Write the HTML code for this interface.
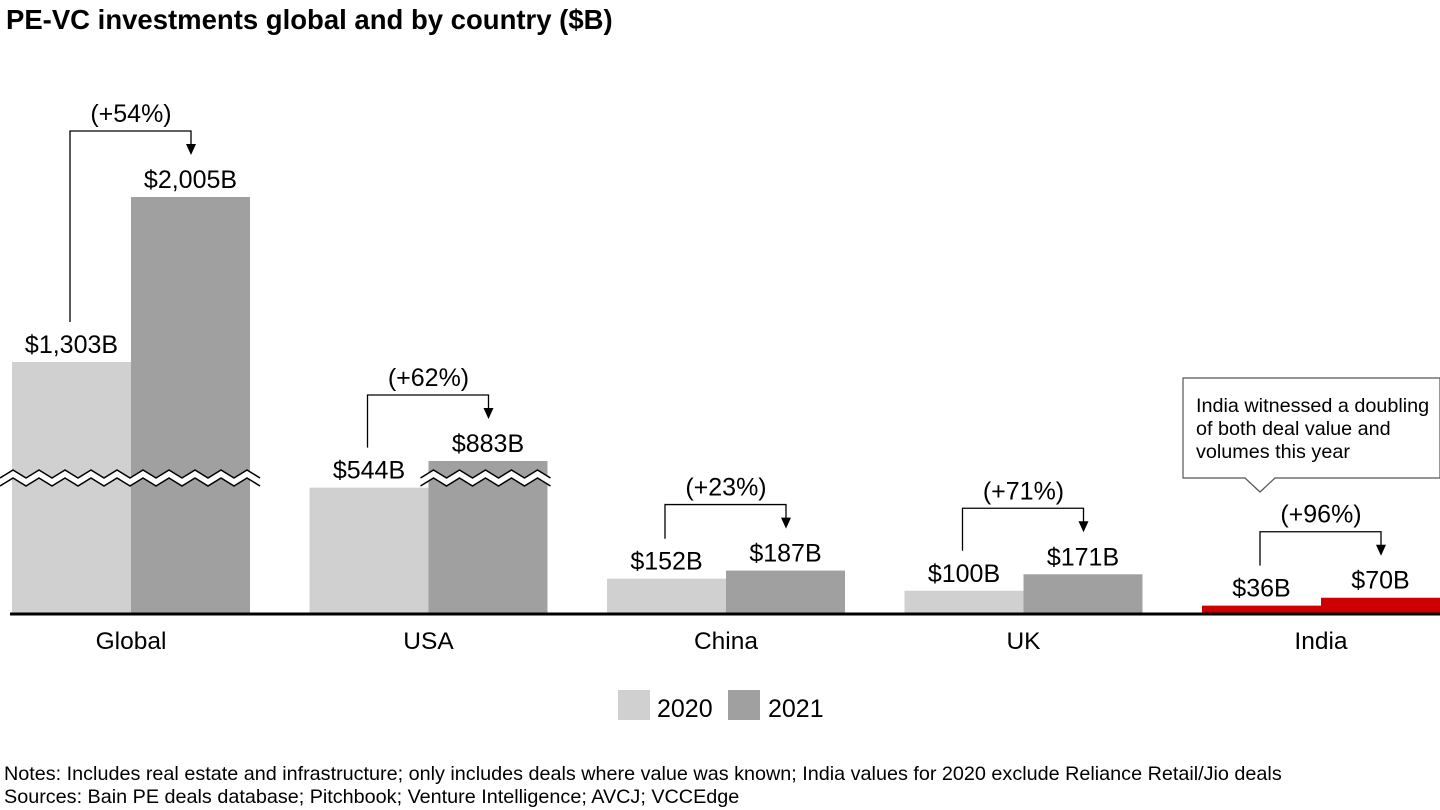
<!DOCTYPE html>
<html><head><meta charset="utf-8"><style>
body{margin:0;background:#fff;}
svg{display:block;font-family:"Liberation Sans",Arial,sans-serif;}
</style></head><body>
<svg id="chart" width="1440" height="810">
<text x="6" y="29" font-size="27.5" font-weight="bold" fill="#000">PE-VC investments global and by country ($B)</text>
<g id="bars"></g>
<line x1="10" y1="614" x2="1440" y2="614" stroke="#000" stroke-width="3"/>
<g>
<rect x="618" y="690" width="32" height="30" fill="#d0d0d0"/>
<text x="657" y="717" font-size="25">2020</text>
<rect x="728" y="690" width="32" height="30" fill="#a0a0a0"/>
<text x="768" y="717" font-size="25">2021</text>
</g>
<g>
<path d="M1183,378 H1440 V478 H1275 L1260,492 L1245,478 H1183 Z" fill="#fff" stroke="#555" stroke-width="1.2"/>
<text font-size="19.8" fill="#000"><tspan x="1196" y="412">India witnessed a doubling</tspan><tspan x="1196" y="435">of both deal value and</tspan><tspan x="1196" y="458">volumes this year</tspan></text>
</g>
<text x="4" y="780" font-size="19.8">Notes: Includes real estate and infrastructure; only includes deals where value was known; India values for 2020 exclude Reliance Retail/Jio deals</text>
<text x="4" y="803" font-size="19.8">Sources: Bain PE deals database; Pitchbook; Venture Intelligence; AVCJ; VCCEdge</text>
</svg>
<script>
const categories=["Global","USA","China","UK","India"];
const values2020=[1303,544,152,100,36];
const values2021=[2005,883,187,171,70];
const growthLabels=["(+54%)","(+62%)","(+23%)","(+71%)","(+96%)"];
const scaleKnotsValue=[0,620,883,1303,2005];
const scaleKnotsPx=[0,144,153,252,417];
const breakValue=620;
const base=614;
function y(v){
  for(let i=1;i<scaleKnotsValue.length;i++){
    if(v<=scaleKnotsValue[i]||i===scaleKnotsValue.length-1){
      const v0=scaleKnotsValue[i-1],v1=scaleKnotsValue[i],p0=scaleKnotsPx[i-1],p1=scaleKnotsPx[i];
      return base-(p0+(v-v0)/(v1-v0)*(p1-p0));
    }
  }
}
function x(i){return 12+i*297.5;}
const NS="http://www.w3.org/2000/svg";
const g=document.getElementById('bars');
function el(t,a){const e=document.createElementNS(NS,t);for(const k in a)e.setAttribute(k,a[k]);g.appendChild(e);return e;}
const bw=119;
categories.forEach((c,i)=>{
  const x0=x(i),x1=x0+bw;
  const red=c==="India";
  const t0=y(values2020[i]),t1=y(values2021[i]);
  const r0=el('rect',{x:x0,y:t0,width:bw,height:base-t0,fill:red?'#cc0000':'#d0d0d0'});
  
  
  const r1=el('rect',{x:x1,y:t1,width:bw,height:base-t1,fill:red?'#cc0000':'#a0a0a0'});
  
  
  const by=y(breakValue)+4;
  let bx0=null,bx1=null;
  if(values2020[i]>breakValue){bx0=x0-12;}
  if(values2021[i]>breakValue){bx1=x1+bw+12;if(bx0===null)bx0=x1-8;}
  if(bx1!==null){
    let d1='',d2='';
    for(let xx=bx0,k=0;xx<=bx1+0.1;xx+=13,k++){
      const yy=by+(k%2?-4:4);
      d1+=(k?'L':'M')+xx+','+yy+' ';d2+=(k?'L':'M')+xx+','+(yy+8)+' ';
    }
    const poly=el('path',{d:d1+d2.replace(/M/,'L').split(' ').filter(s=>s).reverse().join(' ')+'Z',fill:'#fff'});
    
    
    const p1=el('path',{d:d1,fill:'none',stroke:'#000','stroke-width':1.5});
    
    
    const p2=el('path',{d:d2,fill:'none',stroke:'#000','stroke-width':1.5});
    
    
  }
  const l0=el('text',{x:x0+bw/2,y:t0-9,'font-size':25,'text-anchor':'middle'});
  l0.textContent='$'+values2020[i].toLocaleString('en-US')+'B';
  
  
  const l1=el('text',{x:x1+bw/2,y:t1-9,'font-size':25,'text-anchor':'middle'});
  l1.textContent='$'+values2021[i].toLocaleString('en-US')+'B';
  
  
  const top=Math.min(t0,t1);
  const hy=top-66;
  const ax0=x0+58,ax1=x1+60;
  const arr=el('path',{d:`M${ax0},${t0-40} V${hy} H${ax1} V${t1-52}`,fill:'none',stroke:'#000','stroke-width':1.3});
  
  
  const head=el('path',{d:`M${ax1-5},${t1-53} L${ax1+5},${t1-53} L${ax1},${t1-42} Z`,fill:'#000'});
  
  
  const gl=el('text',{x:x1,y:hy-9,'font-size':25,'text-anchor':'middle'});
  gl.textContent=growthLabels[i];
  
  
  const cl=el('text',{x:x1,y:649,'font-size':24.5,'text-anchor':'middle'});
  cl.textContent=c;
  
  
});
</script>
</body></html>
